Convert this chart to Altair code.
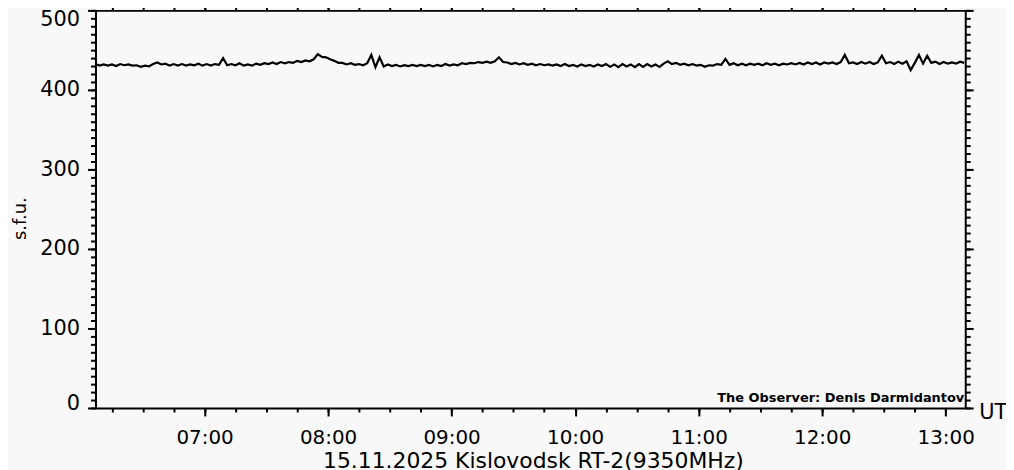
import altair as alt
import pandas as pd

# sample times: minutes after midnight UT, 2-minute steps from 06:07
minutes = list(range(367, 790, 2))
sfu = [
    432.5, 430.5, 432, 430.5, 432, 430, 432.5, 431, 432, 430.5,
    431, 429, 430.5, 429.5, 432.5, 434.5, 432, 433, 430.5, 432.5,
    430.5, 432.5, 430.5, 432, 431, 433, 430.5, 432.5, 430.5, 432.5,
    431.5, 440, 431, 432.5, 431, 433.5, 430.5, 432, 430.5, 433,
    431.5, 433.5, 432.5, 434.5, 432.5, 435, 433.5, 435, 434, 436.5,
    435, 437, 436, 438.5, 445, 441.5, 441, 438.5, 436.5, 434,
    434, 432, 433.5, 431.5, 432.5, 431, 433.5, 444, 428.5, 441,
    429.5, 432, 430, 431.5, 429.5, 431, 430, 431.5, 430, 431.5,
    430, 431.5, 429.5, 431.5, 430, 432.5, 430.5, 432, 431, 433.5,
    432.5, 434, 433.5, 435, 434, 435.5, 434, 436, 441, 435,
    434.5, 432.5, 434, 432, 433.5, 431.5, 433, 431, 432.5, 431,
    432, 430.5, 432, 430, 432.5, 430, 431.5, 429.5, 432, 430,
    431.5, 429.5, 432, 430, 432.5, 429, 432, 428.5, 432.5, 429.5,
    432, 428.5, 432.5, 429, 432.5, 429.5, 432, 429, 433, 436,
    432.5, 434, 431.5, 433, 431, 432.5, 430.5, 431.5, 429, 431,
    430.5, 432.5, 431.5, 439, 431.5, 433.5, 431, 433, 431, 433,
    431.5, 433, 431, 433.5, 431.5, 433, 431, 433, 432, 433.5,
    432, 434, 432, 434.5, 432.5, 434.5, 432, 434.5, 433, 434.5,
    432.5, 435, 444, 433.5, 434.5, 432.5, 435, 433, 435, 432.5,
    434.5, 443, 433.5, 435, 432.5, 435.5, 433, 436, 425, 434,
    444, 433, 443, 434, 435.5, 432.5, 435, 433, 434.5, 433,
    435.5, 434,
]

hour_ticks = [420, 480, 540, 600, 660, 720, 780]
hour_labels = ["07:00", "08:00", "09:00", "10:00", "11:00", "12:00", "13:00"]
quarter_ticks = [375, 390, 405, 420, 435, 450, 465, 480, 495, 510, 525, 540,
                 555, 570, 585, 600, 615, 630, 645, 660, 675, 690, 705, 720,
                 735, 750, 765, 780]
y_major = [0, 100, 200, 300, 400, 500]
y_minor = list(range(0, 501, 10))

title_text = "15.11.2025 Kislovodsk RT-2(9350MHz)"
y_title = "s.f.u."
unit_text = "UT"
observer_text = "The Observer: Denis Darmidantov"

df = pd.DataFrame({"t": minutes, "v": sfu})
label_expr = "{" + ",".join(f"'{v}':'{l}'" for v, l in zip(hour_ticks, hour_labels)) + "}[datum.value]"

FONT = "DejaVu Sans"
xs = alt.Scale(domain=[367, 789.5], nice=False, zero=False)
ys = alt.Scale(domain=[0, 500], nice=False, zero=True)

common = dict(grid=False, domainColor="black", tickColor="black", domainWidth=2,
              tickWidth=2, labelColor="black", labelFont=FONT, titleColor="black",
              titleFont=FONT)

line = alt.Chart(df).mark_line(color="black", strokeWidth=2.2).encode(
    x=alt.X("t:Q", scale=xs, axis=alt.Axis(
        orient="bottom", values=hour_ticks, tickSize=8, labelExpr=label_expr,
        labelFontSize=20, labelPadding=12, title=title_text, titleFontSize=22,
        titleFontWeight="normal", titleX=440, titleY=60, titleBaseline="alphabetic",
        titleAlign="center", **common)),
    y=alt.Y("v:Q", scale=ys, axis=alt.Axis(
        orient="left", values=y_major, tickSize=8, labelFontSize=21, labelPadding=8,
        labelOffset={"condition": [{"test": "datum.value == 0", "value": -4},
                                   {"test": "datum.value == 500", "value": 9}],
                     "value": 0},
        title=y_title, titleFontSize=18, titleFontWeight="normal", titleX=-70,
        titleY=209, titleAngle=270, titleBaseline="alphabetic", titleAlign="center",
        **common)),
)

def ghost(xorient, xvals, xsize, yorient, yvals, ysize, domain):
    return alt.Chart(df).mark_line(opacity=0).encode(
        x=alt.X("t:Q", scale=xs, axis=alt.Axis(
            orient=xorient, values=xvals, tickSize=xsize, labels=False,
            domain=domain, title="", **common)),
        y=alt.Y("v:Q", scale=ys, axis=alt.Axis(
            orient=yorient, values=yvals, tickSize=ysize, labels=False,
            domain=domain, title="", **common)),
    )

minor_bl = ghost("bottom", quarter_ticks, 4, "left", y_minor, 5, False)
major_tr = ghost("top", hour_ticks, 8, "right", y_major, 8, True)
minor_tr = ghost("top", quarter_ticks, 4, "right", y_minor, 5, False)

ut = alt.Chart(pd.DataFrame({"s": [unit_text]})).mark_text(
    align="left", baseline="alphabetic", font=FONT, fontSize=21, color="black"
).encode(x=alt.value(889), y=alt.value(411), text="s:N")

obs = alt.Chart(pd.DataFrame({"s": [observer_text]})).mark_text(
    align="right", baseline="alphabetic", font=FONT, fontSize=13,
    fontWeight="bold", color="black"
).encode(x=alt.value(874), y=alt.value(394), text="s:N")

chart = alt.layer(line, minor_bl, major_tr, minor_tr, ut, obs).resolve_axis(
    x="independent", y="independent"
).properties(
    width=875, height=400,
    autosize=alt.AutoSizeParams(type="none"),
    padding={"left": 88, "top": 1, "right": 41, "bottom": 61},
    background="#f8f8f8",
).configure_view(stroke="transparent")

chart.save("out.html", embed_options={"renderer": "svg", "actions": False})
